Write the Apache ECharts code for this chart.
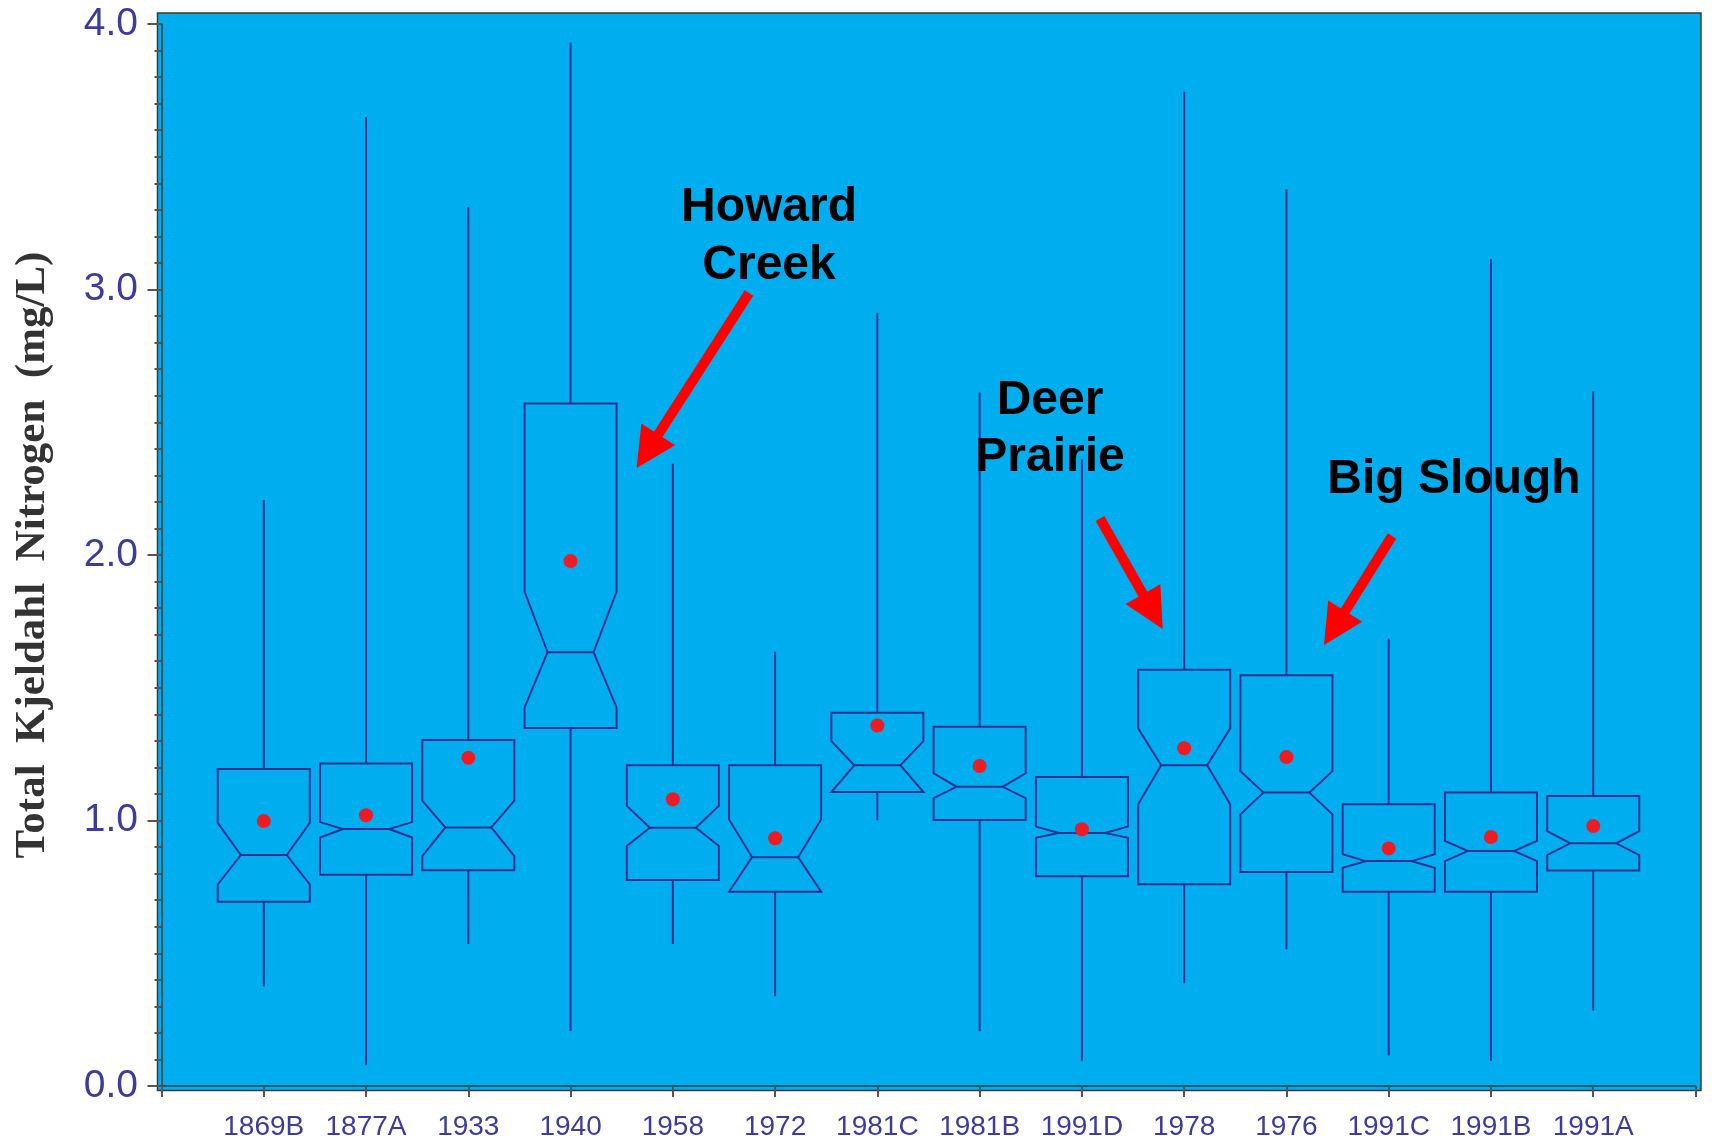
<!DOCTYPE html>
<html>
<head>
<meta charset="utf-8">
<script src="https://cdn.jsdelivr.net/npm/echarts@6/dist/echarts.min.js"></script>
<style>
  html, body { margin: 0; padding: 0; background: #fff; }
  #chart { width: 1715px; height: 1145px; }
</style>
</head>
<body>
<div id="chart"></div>
<script>
// sites along the x axis
const categories = ['1869B', '1877A', '1933', '1940', '1958', '1972', '1981C',
  '1981B', '1991D', '1978', '1976', '1991C', '1991B', '1991A'];

// notched box statistics, mg/L
const whiskerLow  = [0.375, 0.080, 0.535, 0.206, 0.535, 0.338, 1.001, 0.206, 0.095, 0.387, 0.515, 0.115, 0.095, 0.284];
const q1          = [0.694, 0.796, 0.813, 1.348, 0.776, 0.732, 1.107, 1.002, 0.790, 0.760, 0.806, 0.732, 0.732, 0.812];
const notchLow    = [0.759, 0.936, 0.866, 1.425, 0.904, 0.732, 1.107, 1.084, 0.935, 1.061, 1.023, 0.822, 0.847, 0.870];
const median      = [0.870, 0.968, 0.974, 1.634, 0.973, 0.862, 1.208, 1.127, 0.953, 1.208, 1.105, 0.847, 0.885, 0.914];
const notchHigh   = [0.991, 0.994, 1.075, 1.862, 1.055, 1.004, 1.299, 1.178, 0.977, 1.347, 1.186, 0.873, 0.923, 0.960];
const q3          = [1.194, 1.215, 1.303, 2.571, 1.208, 1.208, 1.406, 1.353, 1.164, 1.568, 1.547, 1.061, 1.105, 1.092];
const whiskerHigh = [2.207, 3.650, 3.310, 3.930, 2.344, 1.636, 2.912, 2.612, 2.360, 3.745, 3.378, 1.685, 3.114, 2.616];
const means       = [0.998, 1.020, 1.236, 1.977, 1.080, 0.933, 1.358, 1.205, 0.967, 1.272, 1.239, 0.895, 0.938, 0.979];

const yTicks = [0, 1, 2, 3, 4];

const boxColor = '#2e3192';
const labelColor = '#3b3c9c';

const boxData = categories.map((c, i) => [i + 1, whiskerLow[i], q1[i], notchLow[i], median[i], notchHigh[i], q3[i], whiskerHigh[i]]);
const meanData = categories.map((c, i) => [i + 1, means[i]]);

function renderBox(params, api) {
  const x = api.value(0);
  const half = api.size([0.9, 0])[0] / 2;
  const cx = api.coord([x, 0])[0];
  const y = k => api.coord([x, api.value(k)])[1];
  const yMin = y(1), yQ1 = y(2), yNl = y(3), yMed = y(4), yNh = y(5), yQ3 = y(6), yMax = y(7);
  const line = { stroke: boxColor, lineWidth: 2, fill: null };
  return {
    type: 'group',
    children: [
      { type: 'line', shape: { x1: cx, y1: yMax, x2: cx, y2: yQ3 }, style: line },
      { type: 'line', shape: { x1: cx, y1: yQ1, x2: cx, y2: yMin }, style: line },
      {
        type: 'polygon',
        shape: {
          points: [
            [cx - half, yQ3], [cx + half, yQ3], [cx + half, yNh], [cx + half / 2, yMed],
            [cx + half, yNl], [cx + half, yQ1], [cx - half, yQ1], [cx - half, yNl],
            [cx - half / 2, yMed], [cx - half, yNh]
          ]
        },
        style: line
      },
      { type: 'line', shape: { x1: cx - half / 2, y1: yMed, x2: cx + half / 2, y2: yMed }, style: line }
    ]
  };
}

// red arrow: shaft + triangular head, tip at (x2, y2)
function arrow(x1, y1, x2, y2) {
  const dx = x2 - x1, dy = y2 - y1;
  const len = Math.sqrt(dx * dx + dy * dy);
  const ux = dx / len, uy = dy / len;
  const headLen = 40, headHalf = 20;
  const bx = x2 - ux * headLen, by = y2 - uy * headLen;
  return [
    { type: 'line', z: 100, shape: { x1: x1, y1: y1, x2: bx + ux * 4, y2: by + uy * 4 }, style: { stroke: '#ff0000', lineWidth: 10 } },
    {
      type: 'polygon', z: 100,
      shape: { points: [[x2, y2], [bx - uy * headHalf, by + ux * headHalf], [bx + uy * headHalf, by - ux * headHalf]] },
      style: { fill: '#ff0000' }
    }
  ];
}

function note(text, x, y) {
  return {
    type: 'text', z: 100, x: x, y: y,
    style: { text: text, font: 'bold 48px "Liberation Sans", Arial, sans-serif', fill: '#000', align: 'center', verticalAlign: 'middle' }
  };
}

const chart = echarts.init(document.getElementById('chart'));

const option = {
  animation: false,
  grid: { left: 161.5, right: 19.5, top: 24, bottom: 59 },
  graphic: [
    {
      type: 'rect', z: -10,
      shape: { x: 157.5, y: 13, width: 1543.5, height: 1077.5 },
      style: { fill: '#00aeef', stroke: '#3a3a3a', lineWidth: 1.5 }
    },
    note('Howard', 769, 208),
    note('Creek', 769, 266),
    note('Deer', 1050, 401),
    note('Prairie', 1050, 458),
    note('Big Slough', 1454, 480),
    ...arrow(749, 293, 636.6, 468),
    ...arrow(1100, 518.5, 1162.7, 629),
    ...arrow(1392, 536, 1324, 645)
  ],
  xAxis: {
    type: 'value',
    min: 0,
    max: categories.length + 1,
    interval: 1,
    offset: 4.5,
    axisLine: { lineStyle: { color: '#3a3a3a', width: 1.5 } },
    axisTick: { length: 11, lineStyle: { color: '#555', width: 2 } },
    axisLabel: {
      margin: 23,
      color: labelColor,
      fontSize: 28,
      fontFamily: '"Liberation Sans", Arial, sans-serif',
      formatter: v => categories[v - 1] || ''
    },
    splitLine: { show: false }
  },
  yAxis: {
    type: 'value',
    min: yTicks[0],
    max: yTicks[yTicks.length - 1],
    interval: 1,
    offset: 3.5,
    name: 'Total  Kjeldahl  Nitrogen  (mg/L)',
    nameLocation: 'middle',
    nameGap: 104,
    nameRotate: 90,
    nameTextStyle: {
      color: '#333',
      fontSize: 43,
      fontWeight: 'bold',
      fontFamily: '"Liberation Serif", "DejaVu Serif", serif'
    },
    axisLine: { show: true, lineStyle: { color: '#3a3a3a', width: 1.5 } },
    axisTick: { length: 14, lineStyle: { color: '#555', width: 2 } },
    minorTick: { show: true, splitNumber: 10, length: 7, lineStyle: { color: '#555', width: 2 } },
    axisLabel: {
      margin: 20,
      color: labelColor,
      fontSize: 39,
      fontFamily: '"Liberation Sans", Arial, sans-serif',
      formatter: v => v.toFixed(1)
    },
    splitLine: { show: false }
  },
  series: [
    {
      type: 'custom',
      renderItem: renderBox,
      encode: { x: 0, y: [1, 2, 3, 4, 5, 6, 7] },
      data: boxData,
      z: 3
    },
    {
      type: 'scatter',
      data: meanData,
      symbol: 'circle',
      symbolSize: 14,
      itemStyle: { color: '#ed1c24', opacity: 1 },
      z: 4
    }
  ]
};

chart.setOption(option);
</script>
</body>
</html>
